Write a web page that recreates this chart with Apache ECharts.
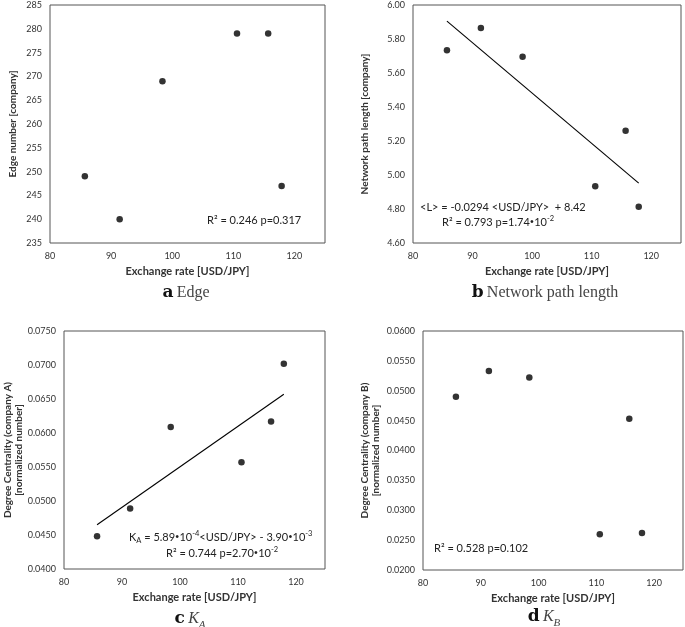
<!DOCTYPE html>
<html>
<head>
<meta charset="utf-8">
<script src="https://cdn.jsdelivr.net/npm/echarts@6/dist/echarts.min.js"></script>
<style>
html,body{margin:0;padding:0;background:#fff;}
#chart{width:685px;height:627px;}
</style>
</head>
<body>
<div id="chart"></div>
<script>
// ---- data ----
const exchangeRate = [85.7, 91.4, 98.4, 110.6, 115.7, 117.9];
const edgeNumber = [249, 240, 269, 279, 279, 247];
const pathLength = [5.734, 5.865, 5.695, 4.934, 5.261, 4.813];
const centralityA = [0.0448, 0.0489, 0.0609, 0.0557, 0.0617, 0.0702];
const centralityB = [0.0490, 0.0533, 0.0522, 0.0260, 0.0453, 0.0262];
const trendX = [85.7, 117.9];
const pathTrendY = [5.905, 4.952];
const centralityATrendY = [0.0465, 0.0657];
const xTitle = 'Exchange rate [USD/JPY]';
const yTitles = ['Edge number [company]', 'Network path length [company]',
  'Degree Centrality (company A)\n[normalized number]',
  'Degree Centrality (company B)\n[normalized number]'];

const pairs = (xs, ys) => xs.map((x, i) => [x, ys[i]]);

const chart = echarts.init(document.getElementById('chart'), null, {renderer: 'canvas'});

const FONT = 'Lato, "Open Sans", sans-serif';
const grids = [
  {left: 50, top: 5, width: 275, height: 238},
  {left: 413, top: 5, width: 268, height: 238},
  {left: 64, top: 331, width: 261, height: 238},
  {left: 423, top: 331, width: 260, height: 239}
].map(g => Object.assign(g, {show: true, borderColor: '#555', borderWidth: 1, backgroundColor: 'transparent'}));

function xAxis(gi) {
  return {
    type: 'value', gridIndex: gi, min: 80, max: 125, interval: 10,
    axisLine: {show: false}, axisTick: {show: false}, splitLine: {show: false},
    axisLabel: {showMaxLabel: false, color: '#333', fontSize: 9, fontFamily: FONT, margin: 9},
    name: xTitle, nameLocation: 'middle', nameGap: 23,
    nameTextStyle: {fontWeight: 'bold', fontSize: 11, color: '#333', fontFamily: FONT}
  };
}
function yAxis(gi, min, max, interval, dec, gap) {
  return {
    type: 'value', gridIndex: gi, min: min, max: max, interval: interval,
    axisLine: {show: false}, axisTick: {show: false}, splitLine: {show: false},
    axisLabel: {color: '#333', fontSize: 9, fontFamily: FONT, margin: 8,
      formatter: v => v.toFixed(dec)},
    name: yTitles[gi], nameLocation: 'middle', nameGap: gap, nameRotate: 90,
    nameTextStyle: {fontWeight: 'bold', fontSize: 10, color: '#333', fontFamily: FONT, lineHeight: 11}
  };
}

function scatter(gi, ys) {
  return {type: 'scatter', xAxisIndex: gi, yAxisIndex: gi, data: pairs(exchangeRate, ys),
    symbol: 'circle', symbolSize: 6.5, itemStyle: {color: '#000'}, silent: true};
}
function trend(gi, ys) {
  return {type: 'line', xAxisIndex: gi, yAxisIndex: gi, data: pairs(trendX, ys),
    symbol: 'none', lineStyle: {color: '#000', width: 1.1}, silent: true};
}

const annRich = {
  sup: {fontSize: 7.5, fontFamily: FONT, fill: '#222', verticalAlign: 'top', lineHeight: 15},
  sub: {fontSize: 7.5, fontFamily: FONT, fill: '#222', verticalAlign: 'bottom', lineHeight: 13},
  dot: {fontSize: 7.5, fontFamily: FONT, fill: '#222', lineHeight: 15}
};
function ann(x, y, text) {
  return {type: 'text', x: x, y: y, silent: true,
    style: {text: text, fill: '#222', font: '11px ' + FONT, align: 'left', verticalAlign: 'middle',
      lineHeight: 15, rich: annRich}};
}
const capRich = {
  b: {fontFamily: '"DejaVu Serif", serif', fontWeight: 'bold', fontSize: 17, fill: '#111'},
  n: {fontFamily: '"Liberation Serif", serif', fontSize: 16, fill: '#444'},
  i: {fontFamily: '"Liberation Serif", serif', fontStyle: 'italic', fontSize: 16, fill: '#444', verticalAlign: 'middle', lineHeight: 20},
  s: {fontFamily: '"Liberation Serif", serif', fontStyle: 'italic', fontSize: 11, fill: '#444', verticalAlign: 'bottom', lineHeight: 24}
};
function cap(x, y, text) {
  return {type: 'text', x: x, y: y, silent: true,
    style: {text: text, align: 'center', verticalAlign: 'middle', rich: capRich}};
}

chart.setOption({
  backgroundColor: '#fff',
  animation: false,
  grid: grids,
  xAxis: [xAxis(0), xAxis(1), xAxis(2), xAxis(3)],
  yAxis: [
    yAxis(0, 235, 285, 5, 0, 32),
    yAxis(1, 4.6, 6.0, 0.2, 2, 43),
    yAxis(2, 0.04, 0.075, 0.005, 4, 40),
    yAxis(3, 0.02, 0.06, 0.005, 4, 42)
  ],
  series: [
    scatter(0, edgeNumber),
    trend(1, pathTrendY), scatter(1, pathLength),
    trend(2, centralityATrendY), scatter(2, centralityA),
    scatter(3, centralityB)
  ],
  graphic: [
    ann(207, 220, 'R² = 0.246 p=0.317'),
    ann(420, 207, '<L> = -0.0294 <USD/JPY>  + 8.42'),
    ann(442, 222, 'R² = 0.793 p=1.74{dot|•}10{sup|-2}'),
    ann(129, 537, 'K{sub|A} = 5.89{dot|•}10{sup|-4}<USD/JPY> - 3.90{dot|•}10{sup|-3}'),
    ann(166, 553, 'R² = 0.744 p=2.70{dot|•}10{sup|-2}'),
    ann(434, 548, 'R² = 0.528 p=0.102'),
    cap(186, 293, '{b|a} {n|Edge}'),
    cap(545, 293, '{b|b} {n|Network path length}'),
    cap(190, 619, '{b|c} {i|K}{s|A}'),
    cap(544, 617, '{b|d} {i|K}{s|B}')
  ]
});
</script>
</body>
</html>
